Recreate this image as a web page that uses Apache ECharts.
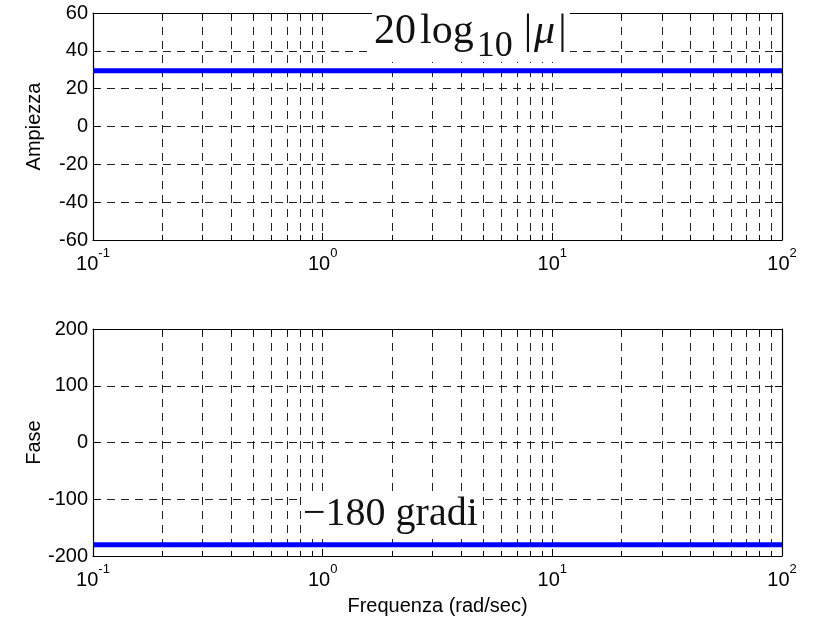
<!DOCTYPE html>
<html>
<head>
<meta charset="utf-8">
<script src="https://cdn.jsdelivr.net/npm/echarts@6/dist/echarts.min.js"></script>
<style>
  html, body { margin: 0; padding: 0; background: #fff; }
  #chart { width: 814px; height: 621px; }
</style>
</head>
<body>
<div id="chart"></div>
<script>
// Bode diagram of a pure gain with negative sign: flat magnitude, phase at -180 degrees
const freq = [0.1, 1, 10, 100];
const magnitudeDb = [29.5, 29.5, 29.5, 29.5];
const phaseDeg = [-180, -180, -180, -180];

const freqExponents = { 0.1: '-1', 1: '0', 10: '1', 100: '2' };
const magTicks = [-60, -40, -20, 0, 20, 40, 60];
const phaseTicks = [-200, -100, 0, 100, 200];

const SANS = '"Liberation Sans", Arial, Helvetica, sans-serif';
const SERIF = '"Liberation Serif", "Times New Roman", Times, serif';
const GRID_DASH = [8, 6];
const GRID_COLOR = '#222';

const grids = [
  { left: 93, top: 13, width: 689, height: 227 },
  { left: 93, top: 329, width: 689, height: 227 }
];

function freqAxis(gridIndex, position, withLabels) {
  return {
    type: 'log',
    logBase: 10,
    gridIndex: gridIndex,
    position: position,
    min: freq[0],
    max: freq[freq.length - 1],
    axisLine: { show: true, onZero: false, lineStyle: { color: '#000', width: 1.2 } },
    axisTick: { show: true, inside: true, length: 7, lineStyle: { color: '#000' } },
    minorTick: { show: true, splitNumber: 9, length: 5, lineStyle: { color: '#000' } },
    splitLine: { show: withLabels, lineStyle: { color: GRID_COLOR, type: GRID_DASH, width: 1 } },
    minorSplitLine: { show: withLabels, lineStyle: { color: GRID_COLOR, type: GRID_DASH, width: 1 } },
    axisLabel: {
      show: withLabels,
      margin: 7,
      formatter: function (v) {
        return '{b|10}{e|' + freqExponents[v] + '}';
      },
      rich: {
        b: { fontFamily: SANS, fontSize: 20, color: '#000', lineHeight: 27, verticalAlign: 'bottom' },
        e: { fontFamily: SANS, fontSize: 13, color: '#000', lineHeight: 13, verticalAlign: 'top' }
      }
    }
  };
}

function valueAxis(gridIndex, position, ticks, name, withLabels) {
  return {
    type: 'value',
    gridIndex: gridIndex,
    position: position,
    min: ticks[0],
    max: ticks[ticks.length - 1],
    interval: ticks[1] - ticks[0],
    name: withLabels ? name : '',
    nameLocation: 'middle',
    nameGap: 49,
    nameMoveOverlap: false,
    nameTextStyle: { fontFamily: SANS, fontSize: 20, color: '#000' },
    axisLine: { show: true, onZero: false, lineStyle: { color: '#000', width: 1.2 } },
    axisTick: { show: true, inside: true, length: 7, lineStyle: { color: '#000' } },
    splitLine: { show: withLabels, lineStyle: { color: GRID_COLOR, type: GRID_DASH, width: 1 } },
    axisLabel: { show: withLabels, margin: 5, fontFamily: SANS, fontSize: 20, color: '#000' }
  };
}

const xAxes = [
  freqAxis(0, 'bottom', true),
  freqAxis(0, 'top', false),
  freqAxis(1, 'bottom', true),
  freqAxis(1, 'top', false)
];
xAxes[2].name = 'Frequenza (rad/sec)';
xAxes[2].nameLocation = 'middle';
xAxes[2].nameGap = 40;
xAxes[2].nameMoveOverlap = false;
xAxes[2].nameTextStyle = { fontFamily: SANS, fontSize: 20, color: '#000' };

const yAxes = [
  valueAxis(0, 'left', magTicks, 'Ampiezza', true),
  valueAxis(0, 'right', magTicks, '', false),
  valueAxis(1, 'left', phaseTicks, 'Fase', true),
  valueAxis(1, 'right', phaseTicks, '', false)
];

const lineStyle = { color: '#0000ff', width: 5 };

const option = {
  animation: false,
  backgroundColor: '#fff',
  grid: grids,
  xAxis: xAxes,
  yAxis: yAxes,
  series: [
    {
      type: 'line',
      xAxisIndex: 0,
      yAxisIndex: 0,
      data: freq.map((f, i) => [f, magnitudeDb[i]]),
      showSymbol: false,
      symbol: 'none',
      lineStyle: lineStyle,
      z: 5
    },
    {
      type: 'line',
      xAxisIndex: 2,
      yAxisIndex: 2,
      data: freq.map((f, i) => [f, phaseDeg[i]]),
      showSymbol: false,
      symbol: 'none',
      lineStyle: lineStyle,
      z: 5
    }
  ],
  graphic: [
    {
      type: 'rect',
      z: 100,
      shape: { x: 372, y: 0, width: 198, height: 62 },
      style: { fill: '#fff' }
    },
    {
      type: 'text',
      z: 101,
      x: 374,
      y: 9,
      style: {
        text: '{n|20}{t|log}{s|10}{b||}{i|μ}{n||}',
        rich: {
          n: { fontFamily: SERIF, fontSize: 42, lineHeight: 46, fill: '#111' },
          t: { fontFamily: SERIF, fontSize: 42, lineHeight: 46, fill: '#111', padding: [0, 0, 0, 4] },
          s: { fontFamily: SERIF, fontSize: 36, lineHeight: 38, fill: '#111', padding: [30, 11, 0, 3] },
          b: { fontFamily: SERIF, fontSize: 42, lineHeight: 46, fill: '#111' },
          i: { fontFamily: SERIF, fontSize: 42, lineHeight: 46, fontStyle: 'italic', fill: '#111', padding: [0, 3, 0, 2] }
        }
      }
    },
    {
      type: 'rect',
      z: 100,
      shape: { x: 301, y: 493, width: 178, height: 43 },
      style: { fill: '#fff' }
    },
    {
      type: 'text',
      z: 101,
      x: 303,
      y: 514,
      style: {
        text: '\u2212180 gradi',
        fontFamily: SERIF,
        fontSize: 40,
        fill: '#111',
        verticalAlign: 'middle'
      }
    }
  ]
};

const chart = echarts.init(document.getElementById('chart'), null, { renderer: 'canvas' });
chart.setOption(option);
</script>
</body>
</html>
